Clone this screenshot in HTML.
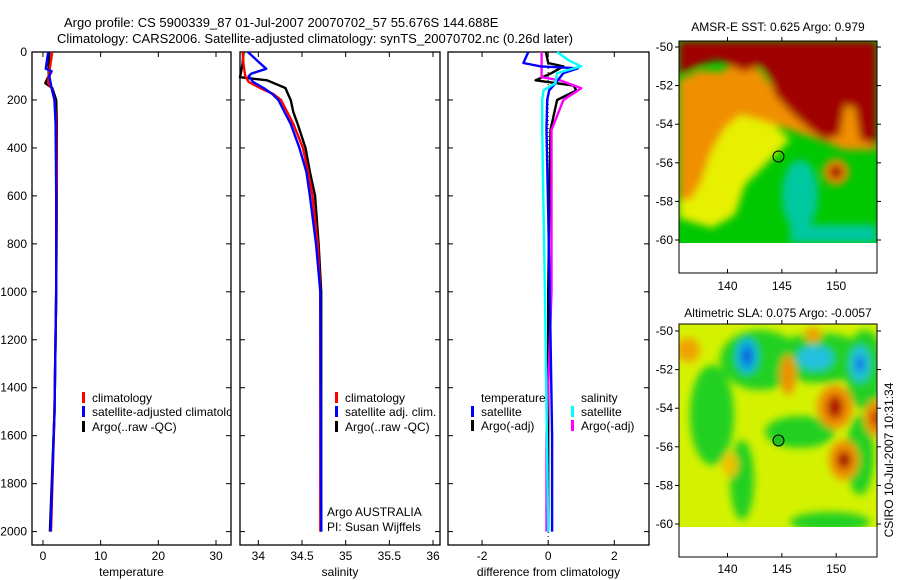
<!DOCTYPE html>
<html><head><meta charset="utf-8"><style>
body{margin:0;background:#fff;}
svg{display:block;font-family:"Liberation Sans",sans-serif;}
</style></head><body>
<svg id="c" width="900" height="580" xmlns="http://www.w3.org/2000/svg">
<defs>
<filter id="bl" x="-20%" y="-20%" width="140%" height="140%"><feGaussianBlur stdDeviation="4"/></filter>
<clipPath id="m1c"><rect x="679" y="41" width="198" height="202"/></clipPath>
<clipPath id="m2c"><rect x="679" y="324" width="198" height="203"/></clipPath>
<clipPath id="p1c"><rect x="32" y="52" width="199" height="493"/></clipPath>
</defs>
<text x="64" y="27" font-size="13">Argo profile: CS 5900339_87 01-Jul-2007 20070702_57 55.676S 144.688E</text>
<text x="57" y="43" font-size="13">Climatology: CARS2006. Satellite-adjusted climatology: synTS_20070702.nc (0.26d later)</text>

<g>
<g clip-path="url(#m1c)">
<rect x="679" y="41" width="198" height="202" fill="#00c800"/>
<g filter="url(#bl)">
<polygon points="679,100 740,95 770,120 790,140 770,160 745,185 735,215 712,228 679,218" fill="#e6f000"/>
<polygon points="679,80 700,70 720,72 740,60 760,70 775,90 800,105 830,110 850,100 877,100 877,150 845,150 820,140 790,130 760,120 740,115 725,128 712,150 700,185 690,200 679,200" fill="#f09000"/>
<polygon points="679,41 877,41 877,145 860,140 855,108 845,105 840,135 825,140 810,130 790,112 775,95 770,78 760,65 745,72 735,68 720,60 700,65 679,75" fill="#a00000"/>
<ellipse cx="800" cy="195" rx="18" ry="35" fill="#00c8a0"/>
<rect x="790" y="225" width="87" height="18" fill="#00c8a0"/>
<circle cx="836" cy="172" r="13" fill="#f09000"/>
<circle cx="836" cy="172" r="7" fill="#a00000"/>
</g>
</g>
<rect x="679" y="41" width="198" height="232" fill="none" stroke="#000"/>
<circle cx="778.5" cy="156.5" r="5.5" fill="none" stroke="#000"/>
<text x="778" y="31" font-size="12" text-anchor="middle">AMSR-E SST: 0.625 Argo: 0.979</text>
</g>

<g>
<g clip-path="url(#m2c)">
<rect x="679" y="324" width="198" height="203" fill="#d4f200"/>
<g filter="url(#bl)">
<ellipse cx="712" cy="415" rx="22" ry="50" fill="#20d020"/>
<ellipse cx="760" cy="360" rx="40" ry="30" fill="#20d020"/>
<ellipse cx="820" cy="358" rx="50" ry="25" fill="#20d020"/>
<ellipse cx="865" cy="370" rx="20" ry="40" fill="#20d020"/>
<ellipse cx="800" cy="432" rx="35" ry="16" fill="#20d020"/>
<ellipse cx="860" cy="455" rx="14" ry="40" fill="#20d020"/>
<ellipse cx="742" cy="480" rx="12" ry="40" fill="#20d020"/>
<ellipse cx="830" cy="522" rx="40" ry="10" fill="#20d020"/>
<ellipse cx="747" cy="356" rx="11" ry="18" fill="#10b0e0"/>
<ellipse cx="747" cy="356" rx="5" ry="9" fill="#1050e0"/>
<ellipse cx="815" cy="358" rx="18" ry="12" fill="#20c0e0"/>
<ellipse cx="860" cy="364" rx="10" ry="18" fill="#20c0e0"/>
<ellipse cx="860" cy="364" rx="4" ry="8" fill="#1060e0"/>
<ellipse cx="835" cy="407" rx="18" ry="22" fill="#f09000"/>
<ellipse cx="835" cy="407" rx="8" ry="12" fill="#b01000"/>
<ellipse cx="844" cy="460" rx="15" ry="20" fill="#f09000"/>
<ellipse cx="844" cy="460" rx="7" ry="9" fill="#a00000"/>
<ellipse cx="876" cy="418" rx="12" ry="18" fill="#f09000"/>
<ellipse cx="876" cy="418" rx="5" ry="8" fill="#c02000"/>
<ellipse cx="788" cy="375" rx="8" ry="20" fill="#f09000"/>
<ellipse cx="688" cy="350" rx="12" ry="12" fill="#f0a000"/>
<ellipse cx="813" cy="335" rx="8" ry="8" fill="#f0a000"/>
<ellipse cx="730" cy="465" rx="8" ry="12" fill="#f0c000"/>
</g>
</g>
<rect x="679" y="324" width="198" height="233" fill="none" stroke="#000"/>
<circle cx="778.5" cy="440.5" r="5.5" fill="#20c020" stroke="#000"/>
<text x="778" y="317" font-size="12" text-anchor="middle">Altimetric SLA: 0.075 Argo: -0.0057</text>
</g>
<text transform="translate(893,460) rotate(-90)" font-size="12" text-anchor="middle">CSIRO 10-Jul-2007 10:31:34</text>

<g id="plots"></g>
</svg>
<script>
// ---- data ----
const depthClim=[0,50,100,130,150,200,300,500,1000,1500,2000];
const tempClim=[1.6,1.3,1.0,0.9,1.5,2.0,2.3,2.4,2.3,2.0,1.4];
const depthTSat=[0,50,70,80,100,150,200,300,600,1000,1500,2000];
const tempSat=[0.9,0.6,0.5,1.5,1.1,1.5,2.0,2.2,2.3,2.3,2.0,1.3];
const depthTArgo=[0,50,100,120,130,150,200,300,600,1000,1500,2000];
const tempArgo=[1.1,1.0,1.0,0.6,0.4,1.6,2.3,2.4,2.4,2.3,2.0,1.2];
const depthSClim=[0,50,100,125,150,175,200,250,300,400,500,600,800,1000,2000];
const salClim=[33.82,33.83,33.85,33.89,34.02,34.17,34.26,34.33,34.40,34.51,34.57,34.62,34.68,34.71,34.71];
const depthSSat=[0,40,70,90,100,125,150,175,200,250,300,400,500,600,800,1000,2000];
const salSat=[33.88,34.0,34.09,33.92,33.89,33.94,34.06,34.16,34.23,34.30,34.37,34.47,34.55,34.59,34.66,34.71,34.72];
const depthSArgo=[0,50,105,118,150,175,200,250,300,400,500,600,800,1000,2000];
const salArgo=[33.83,33.82,33.79,34.10,34.31,34.34,34.37,34.40,34.45,34.54,34.59,34.65,34.69,34.72,34.72];
const depthDTSat=[0,46,60,68,88,130,160,200,325,1000,1600,2000];
const dTSat=[-0.6,-0.75,-0.22,0.9,0.46,0.22,0.03,-0.03,-0.05,0.05,0.12,0.12];
const depthDTArgo=[0,46,60,88,118,140,160,200,325,1000,2000];
const dTArgo=[-0.07,0.0,0.46,0.1,-0.38,0.77,0.85,0.27,0.07,0.0,0.0];
const depthDSSat=[0,33,60,88,130,160,200,325,1000,2000];
const dSSat=[0.27,0.6,1.0,0.27,0.22,-0.14,-0.18,-0.18,-0.1,0.0];
const depthDSArgo=[0,105,119,151,200,325,1000,1600,2000];
const dSArgo=[-0.2,-0.2,0.38,1.0,0.46,0.1,0.1,-0.05,-0.05];
const depthTicks=[0,200,400,600,800,1000,1200,1400,1600,1800,2000];
const tTicks=[0,10,20,30];
const sTicks=[34,34.5,35,35.5,36];
const dTicks=[-2,0,2];
// ---- layout ----
const NS="http://www.w3.org/2000/svg";
const root=document.getElementById('plots');
const Y0=52,Y1=545;
const yS=d=>Y0+(d-0)*(531.6-52)/2000;
function el(t,a,p){const e=document.createElementNS(NS,t);for(const k in a)e.setAttribute(k,a[k]);(p||root).appendChild(e);return e;}
const panels=[
 {x0:32,x1:231,v0:-1.9,v1:32.6,ticks:tTicks,label:'temperature',name:'temperature-panel'},
 {x0:240,x1:440,v0:33.79,v1:36.08,ticks:sTicks,label:'salinity',name:'salinity-panel'},
 {x0:448,x1:649,v0:-3.03,v1:3.05,ticks:dTicks,label:'difference from climatology',name:'difference-panel'}];
panels.forEach((p,i)=>{
 p.xs=v=>p.x0+(v-p.v0)/(p.v1-p.v0)*(p.x1-p.x0);
 const g=el('g',{});
 
 
 p.g=g;
 el('rect',{x:p.x0,y:Y0,width:p.x1-p.x0,height:Y1-Y0,fill:'none',stroke:'#000','stroke-width':1.3},g);
 p.ticks.forEach(t=>{const x=p.xs(t);
  el('line',{x1:x,x2:x,y1:Y0,y2:Y0+5,stroke:'#000'},g);
  el('line',{x1:x,x2:x,y1:Y1,y2:Y1-5,stroke:'#000'},g);
  const tx=el('text',{x:x,y:560,'font-size':12,'text-anchor':'middle'},g);tx.textContent=String(t);
  
  });
 depthTicks.forEach(d=>{const y=yS(d);
  el('line',{x1:p.x0,x2:p.x0+5,y1:y,y2:y,stroke:'#000'},g);
  el('line',{x1:p.x1,x2:p.x1-5,y1:y,y2:y,stroke:'#000'},g);
  if(i===0){const tx=el('text',{x:27,y:y+4,'font-size':12,'text-anchor':'end'},g);tx.textContent=String(d);
   
   }});
 const xl=el('text',{x:(p.x0+p.x1)/2,y:576,'font-size':12,'text-anchor':'middle'},g);xl.textContent=p.label;
 
 
});
function line(p,ds,vs,col,name,w){
 const pts=ds.map((d,k)=>p.xs(vs[k]).toFixed(1)+','+yS(d).toFixed(1)).join(' ');
 const pl=el('polyline',{points:pts,fill:'none',stroke:col,'stroke-width':w||2.4,'stroke-linejoin':'round'},p.g);
 
 
}
const P=panels;
line(P[0],depthTArgo,tempArgo,'#000','temperature-argo-line');
line(P[0],depthClim,tempClim,'#f00','temperature-climatology-line');
line(P[0],depthTSat,tempSat,'#00f','temperature-satellite-line');
line(P[1],depthSArgo,salArgo,'#000','salinity-argo-line');
line(P[1],depthSClim,salClim,'#f00','salinity-climatology-line');
line(P[1],depthSSat,salSat,'#00f','salinity-satellite-line');
const zl=el('line',{x1:P[2].xs(0),x2:P[2].xs(0),y1:Y0,y2:Y1,stroke:'#000','stroke-dasharray':'1,3'},P[2].g);


line(P[2],depthDTArgo,dTArgo,'#000','diff-temperature-argo-line');
line(P[2],depthDSArgo,dSArgo,'#f0f','diff-salinity-argo-line');
line(P[2],depthDTSat,dTSat,'#00f','diff-temperature-satellite-line');
line(P[2],depthDSSat,dSSat,'#0ff','diff-salinity-satellite-line');
function legend(g,x,y,col,txt){
 if(col){const r=el('rect',{x:x-10,y:y-10,width:3,height:11,fill:col},g);
  
  }
 const t=el('text',{x:x,y:y,'font-size':12},g);t.textContent=txt;
 
 
}
const lg0=el('g',{'clip-path':'url(#p1c)'},P[0].g);
legend(lg0,92,402,'#f00','climatology');
legend(lg0,92,416,'#00f','satellite-adjusted climatology');
legend(lg0,92,431,'#000','Argo(..raw -QC)');
legend(P[1].g,345,402,'#f00','climatology');
legend(P[1].g,345,416,'#00f','satellite adj. clim.');
legend(P[1].g,345,431,'#000','Argo(..raw -QC)');
legend(P[1].g,327,516,null,'Argo AUSTRALIA');
legend(P[1].g,327,531,null,'PI: Susan Wijffels');
legend(P[2].g,481,402,null,'temperature');
legend(P[2].g,481,416,'#00f','satellite');
legend(P[2].g,481,430,'#000','Argo(-adj)');
legend(P[2].g,581,402,null,'salinity');
legend(P[2].g,581,416,'#0ff','satellite');
legend(P[2].g,581,430,'#f0f','Argo(-adj)');
const svg=document.getElementById('c');
function mapAxes(top,bot,latTop,ly){
 const xs=l=>727.5+(l-140)*10.87;
 [140,145,150].forEach(l=>{const x=xs(l);
  el('line',{x1:x,x2:x,y1:top,y2:top-4,stroke:'#000'},svg);
  el('line',{x1:x,x2:x,y1:bot,y2:bot-4,stroke:'#000'},svg);
  const t=el('text',{x:x,y:ly,'font-size':12,'text-anchor':'middle'},svg);t.textContent=String(l);
  
  });
 [-50,-52,-54,-56,-58,-60].forEach(la=>{const y=latTop+(-50-la)*19.3;
  el('line',{x1:679,x2:675,y1:y,y2:y,stroke:'#000'},svg);
  el('line',{x1:877,x2:881,y1:y,y2:y,stroke:'#000'},svg);
  const t=el('text',{x:673,y:y+4,'font-size':12,'text-anchor':'end'},svg);t.textContent=String(la);
  
  });
}
mapAxes(41,273,47,290);
mapAxes(324,557,331,573);
</script>
</body></html>
